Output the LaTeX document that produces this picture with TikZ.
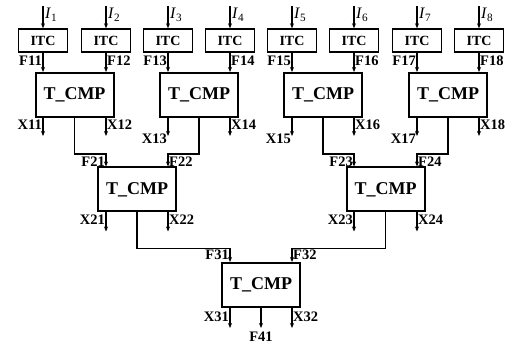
\documentclass[tikz,border=0pt]{standalone}
\usepackage{fontspec}
\setmainfont{Liberation Serif}
\usetikzlibrary{arrows.meta}
\tikzset{
  itc/.style={draw,line width=1.4pt,minimum width=49pt,minimum height=23pt,inner sep=0pt,font=\fontsize{14}{14}\selectfont\bfseries},
  cmp/.style={draw,line width=2pt,minimum width=78pt,minimum height=44pt,inner sep=0pt,font=\fontsize{18}{18}\selectfont\bfseries},
  lbl/.style={inner sep=1pt,font=\fontsize{14.5}{14.5}\selectfont\bfseries},
  inlbl/.style={inner sep=1pt,anchor=west,font=\fontsize{16}{16}\selectfont},
  wire/.style={line width=1.2pt},
  sig/.style={wire,-{Stealth[length=5pt,width=4pt]}}
}

\begin{document}
\begin{tikzpicture}[x=1pt,y=-1pt]
\useasboundingbox (0,0) rectangle (512,347);
% input converters
\foreach \i/\x in {1/43,2/106,3/168,4/230,5/292,6/354,7/417,8/479}{
  \node[itc] (i\i) at (\x,40.5) {ITC};
  \coordinate (in\i) at (\x,6);
  \draw[sig] (in\i) -- (i\i);
  \node[inlbl] (li\i) at (\x+1,15) {\textit{I}\textsubscript{\i}};
}
% comparators
\node[cmp] (c1) at (74.5,95) {T\_CMP};
\node[cmp] (c2) at (199,95) {T\_CMP};
\node[cmp] (c3) at (323,95) {T\_CMP};
\node[cmp] (c4) at (448,95) {T\_CMP};
\node[cmp] (d1) at (137,189.5) {T\_CMP};
\node[cmp] (d2) at (385.5,189.5) {T\_CMP};
\node[cmp] (e) at (261,285) {T\_CMP};
% first level
\foreach \i/\c in {1/c1,2/c1,3/c2,4/c2,5/c3,6/c3,7/c4,8/c4}{
  \draw[sig] (i\i) -- (i\i |- \c.north);
  \draw[sig] (i\i |- \c.south) -- ++(0,18);
}
\draw[sig] (c1.south) -- ++(0,36) -| (i2 |- d1.north);
\draw[sig] (c2.south) -- ++(0,36) -| (i3 |- d1.north);
\draw[sig] (c3.south) -- ++(0,36) -| (i6 |- d2.north);
\draw[sig] (c4.south) -- ++(0,36) -| (i7 |- d2.north);
% second level
\foreach \i/\c in {2/d1,3/d1,6/d2,7/d2}{
  \draw[sig] (i\i |- \c.south) -- ++(0,19);
}
\draw[sig] (d1.south) -- ++(0,36) -| (i4 |- e.north);
\draw[sig] (d2.south) -- ++(0,36) -| (i5 |- e.north);
% last level
\foreach \i in {4,5}{\draw[sig] (i\i |- e.south) -- ++(0,20);}
\draw[sig] (e.south) -- ++(0,20);
% labels
\foreach \n/\x/\a in {11/43/east,12/106/west,13/168/east,14/230/west,15/292/east,16/354/west,17/417/east,18/479/west}{
  \node[lbl,anchor=\a] (lf\n) at (\x,61) {F\n};
}
\foreach \n/\x/\y/\a in {11/43/125/east,12/106/125/west,13/168/139/east,14/230/125/west,15/292/139/east,16/354/125/west,17/417/139/east,18/479/125/west}{
  \node[lbl,anchor=\a] (lx\n) at (\x,\y) {X\n};
}
\foreach \n/\x/\a in {21/106/east,22/168/west,23/354/east,24/417/west}{
  \node[lbl,anchor=\a] (lf\n) at (\x,162) {F\n};
  \node[lbl,anchor=\a] (lx\n) at (\x,220) {X\n};
}
\node[lbl,anchor=east] (lf31) at (230,255) {F31};
\node[lbl,anchor=west] (lf32) at (292,255) {F32};
\node[lbl,anchor=east] (lx31) at (230,317) {X31};
\node[lbl,anchor=west] (lx32) at (292,317) {X32};
\node[lbl] (lf41) at (261,337) {F41};
\end{tikzpicture}
\end{document}
